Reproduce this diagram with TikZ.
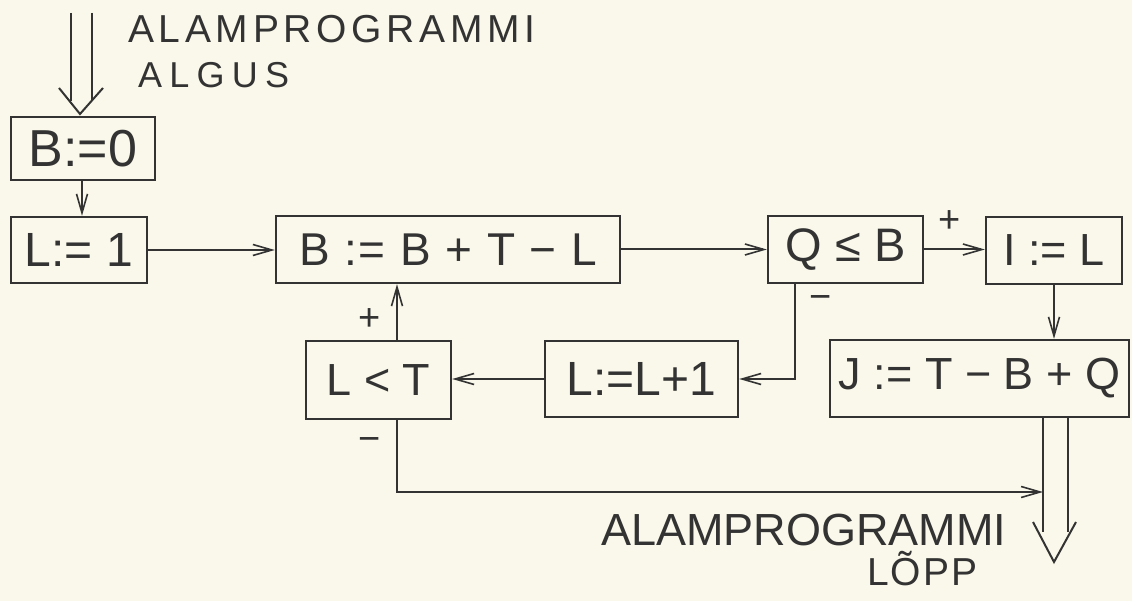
\documentclass[tikz,border=0pt]{standalone}
\usepackage{fontspec}
\setmainfont{Liberation Sans}
\usetikzlibrary{arrows.meta,calc}
\definecolor{paper}{HTML}{FAF8EA}
\definecolor{pencil}{HTML}{333333}
\tikzset{
  box/.style={draw=pencil, line width=2.4pt, inner sep=0pt, text=pencil,
    font=\fontsize{45}{50}\selectfont},
  conn/.style={draw=pencil, line width=2pt},
  arr/.style={conn, -{Straight Barb[length=19pt,width=11pt,line width=1.6pt]}},
  sign/.style={text=pencil, font=\fontsize{38}{40}\selectfont, inner sep=0pt},
  caption/.style={text=pencil, inner sep=0pt, anchor=west},
}
\begin{document}
\begin{tikzpicture}[x=1pt,y=-1pt]
\fill[paper] (0,0) rectangle (1132,601);
\useasboundingbox (0,0) rectangle (1132,601);

% boxes
\node[box, minimum width=144pt, minimum height=63pt, font=\fontsize{52}{56}\selectfont] (b0) at (83,148.5) {B:=0};
\node[box, minimum width=136pt, minimum height=66pt, font=\fontsize{48}{52}\selectfont] (l1) at (79,250) {L:= 1};
\node[box, minimum width=344pt, minimum height=67pt, font=\fontsize{46}{52}\addfontfeatures{LetterSpace=4}\selectfont] (bb) at (448,249.5) {B := B + T − L};
\node[box, minimum width=155pt, minimum height=67pt, font=\fontsize{47}{52}\selectfont] (q) at (845.5,249.5) {Q ≤ B};
\node[box, minimum width=136pt, minimum height=67pt] (i) at (1054,250.5) {I := L};
\node[box, minimum width=299pt, minimum height=77pt, font=\fontsize{45}{52}\selectfont] (j) at (979.5,378.5) {J := T − B + Q};
\node[box, minimum width=193pt, minimum height=76pt, font=\fontsize{48}{52}\selectfont] (ll) at (641.5,379) {L:=L+1};
\node[box, minimum width=145pt, minimum height=78pt] (lt) at (378.5,380) {L < T};

% captions
\node[caption, font=\fontsize{39}{40}\addfontfeatures{LetterSpace=12}\selectfont] (cin1) at (128,29) {ALAMPROGRAMMI};
\node[caption, font=\fontsize{36}{40}\addfontfeatures{LetterSpace=20}\selectfont] (cin2) at (138,75) {ALGUS};
\node[caption, font=\fontsize{45}{50}\selectfont] (cout1) at (601,530) {ALAMPROGRAMMI};
\node[caption, font=\fontsize{39}{40}\addfontfeatures{LetterSpace=5}\selectfont] (cout2) at (867,569) {LÕPP};

% input double arrow
\coordinate (inL) at (71,13);
\coordinate (inR) at (92,13);
\coordinate (inTip) at (80,114);
\draw[conn] (inL) -- (71,101);
\draw[conn] (inR) -- (92,101);
\draw[conn] (59,88) -- (inTip) -- (103,88);

% connectors
\draw[arr] ([xshift=-1pt]b0.south) -- ([xshift=-1pt]b0.south |- l1.north);
\draw[arr] (l1.east) -- (l1.east -| bb.west);
\draw[arr] (bb.east) -- (bb.east -| q.west);
\draw[arr] (q.east) -- (q.east -| i.west);
\node[sign] (plus1) at (950,222) {+};
\draw[arr] (i.south) -- (i.south |- j.north);
\draw[arr] ([xshift=-50.5pt]q.south) |- (ll.east);
\node[sign] (minus1) at (821,303) {−};
\draw[arr] (ll.west) -- (ll.west -| lt.east);
\draw[arr] ([xshift=18.5pt]lt.north) -- ([xshift=18.5pt]lt.north |- bb.south);
\node[sign] (plus2) at (370,320) {+};
\coordinate (outIn) at (1043,492);
\draw[arr] ([xshift=18.5pt]lt.south) |- (outIn);
\node[sign] (minus2) at (370,445) {−};

% output double arrow
\coordinate (outL) at (1043,417);
\coordinate (outR) at (1068,417);
\coordinate (outTip) at (1054,562);
\draw[conn] (outL) -- (1043,532);
\draw[conn] (outR) -- (1068,532);
\draw[conn] (1033,522) -- (outTip) -- (1076,522);
\end{tikzpicture}
\end{document}
